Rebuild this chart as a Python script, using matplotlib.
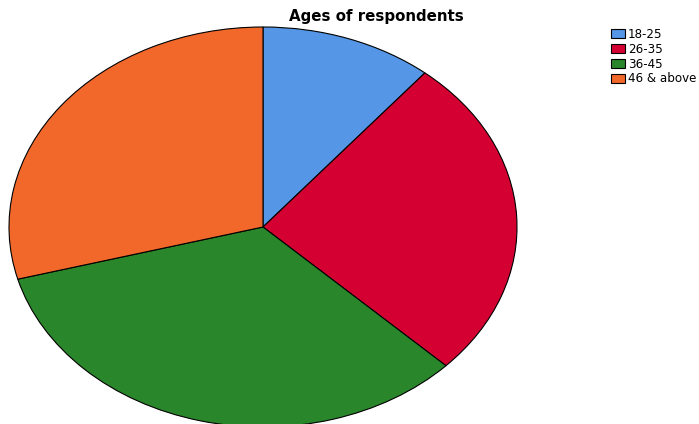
import matplotlib.pyplot as plt

# Age groups and their share of respondents (percent)
age_groups = ['18-25', '26-35', '36-45', '46 & above']
shares = [11.0, 26.2, 33.6, 29.2]
colours = ['#5596e6', '#d50032', '#2a862a', '#f2682b']

fig = plt.figure(figsize=(6.99, 4.24), dpi=100)

# axes box = ellipse bounding box in pixels, bottom runs off the figure
W, H = 699, 424
ax = fig.add_axes([9 / W, (H - 427) / H, 508 / W, 400 / H])
wedges, _ = ax.pie(shares, colors=colours, startangle=90, counterclock=False,
                   wedgeprops=dict(edgecolor='black', linewidth=0.8))
ax.set_aspect('auto')
ax.set_xlim(-1.0, 1.0)
ax.set_ylim(-1.0, 1.0)
ax.axis('off')

fig.text(376 / W, 1 - 16 / H, 'Ages of respondents', ha='center', va='center',
         fontsize=10.8, fontweight='bold', family='DejaVu Sans')

fig.legend(wedges, age_groups, loc='upper left', bbox_to_anchor=(611 / W, 1 - 28 / H),
           frameon=False, prop={'family': 'DejaVu Sans', 'size': 8.6},
           handlelength=1.15, handleheight=0.8, handletextpad=0.25,
           labelspacing=0.15, borderpad=0, borderaxespad=0)

fig.savefig('out.png', dpi=100)
